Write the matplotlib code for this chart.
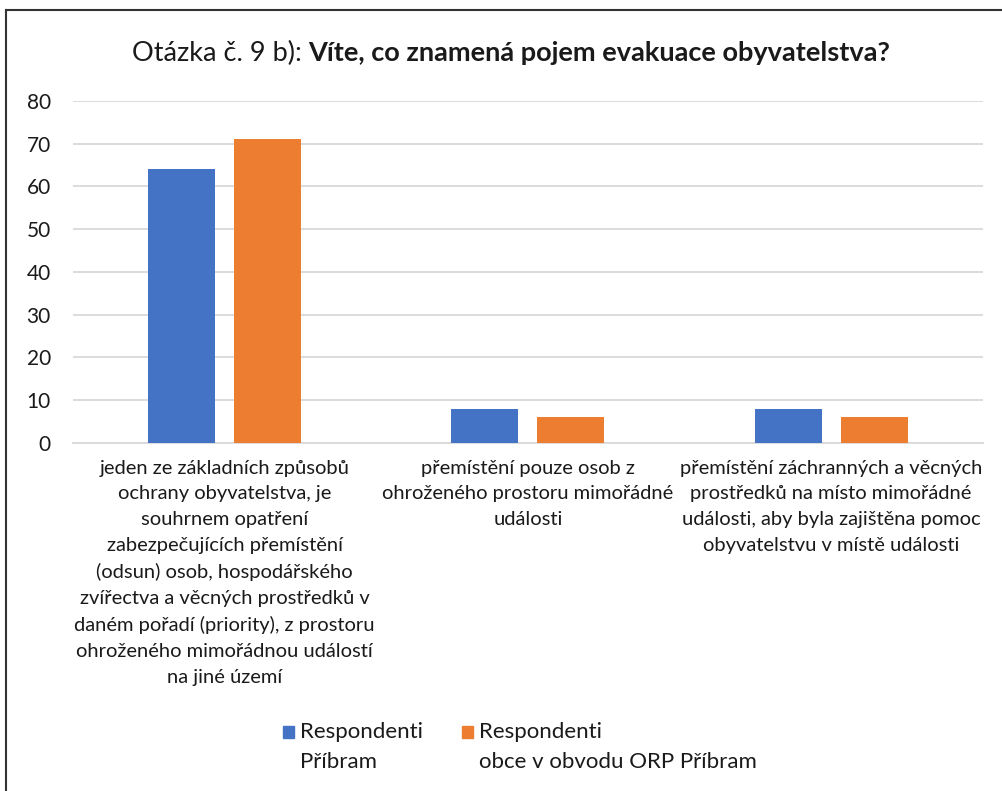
import matplotlib.pyplot as plt
from matplotlib.lines import Line2D
from matplotlib.patches import Rectangle
import numpy as np

plt.rcParams['font.family'] = ['Lato', 'DejaVu Sans']

categories = [
    "jeden ze základních způsobů\nochrany obyvatelstva, je\nsouhrnem opatření\nzabezpečujících přemístění\n(odsun) osob, hospodářského\nzvířectva a věcných prostředků v\ndaném pořadí (priority), z prostoru\nohroženého mimořádnou událostí\nna jiné území",
    "přemístění pouze osob z\nohroženého prostoru mimořádné\nudálosti",
    "přemístění záchranných a věcných\nprostředků na místo mimořádné\nudálosti, aby byla zajištěna pomoc\nobyvatelstvu v místě události",
]
pribram = [64, 8, 8]
obce = [71, 6, 6]
series_names = ["Respondenti\nPříbram", "Respondenti\nobce v obvodu ORP Příbram"]
colors = ["#4472C4", "#ED7D31"]
txt = "#1a1a1a"

fig = plt.figure(figsize=(10.03, 7.91), dpi=100)
ax = fig.add_axes([0.0728, 0.440, 0.907, 0.4323])

x = np.arange(len(categories))
w = 0.221
off = 0.142
ax.bar(x - off, pribram, w, color=colors[0], zorder=3)
ax.bar(x + off, obce, w, color=colors[1], zorder=3)

ax.set_xlim(-0.5, 2.5)
ax.set_ylim(0, 80)
ax.set_yticks(range(0, 81, 10))
ax.yaxis.grid(True, color="#D9D9D9", linewidth=1.3, zorder=0)
ax.set_axisbelow(True)
for s in ["top", "right", "left"]:
    ax.spines[s].set_visible(False)
ax.spines["bottom"].set_color("#D9D9D9")
ax.spines["bottom"].set_linewidth(1.3)
ax.tick_params(axis="y", length=0, pad=16, labelsize=15, labelcolor=txt)
ax.tick_params(axis="x", length=0, pad=12)
ax.set_xticks(x)
ax.set_xticklabels(categories, fontsize=14.5, color=txt, linespacing=1.62, va="top")

# title: normal part + bold part
fig.canvas.draw()
r = fig.canvas.get_renderer()
t1 = fig.text(0, 1 - 53 / 791, "Otázka č. 9 b): ", fontsize=19.5, va="center", color=txt)
t2 = fig.text(0, 1 - 53 / 791, "Víte, co znamená pojem evakuace obyvatelstva?", fontsize=19.5,
              fontweight="bold", va="center", color=txt)
w1 = t1.get_window_extent(r).width
w2 = t2.get_window_extent(r).width
start = 511 - (w1 + w2) / 2
t1.set_x(start / 1003)
t2.set_x((start + w1) / 1003)

# legend: square aligned with first line of a two-line label
leg_x = [283, 462]
for name, col, lx in zip(series_names, colors, leg_x):
    fig.add_artist(Rectangle((lx / 1003, 1 - 738 / 791), 11 / 1003, 12 / 791,
                             transform=fig.transFigure, color=col))
    fig.text((lx + 17) / 1003, 1 - 722 / 791, name, fontsize=16, va="top", ha="left",
             color=txt, linespacing=1.62)

# outer frame (only left and top visible)
fig.add_artist(Line2D([6 / 1003, 6 / 1003], [0, 1 - 10 / 791], transform=fig.transFigure,
                      color="#333333", linewidth=1.5))
fig.add_artist(Line2D([6 / 1003, 1], [1 - 10 / 791, 1 - 10 / 791], transform=fig.transFigure,
                      color="#333333", linewidth=1.5))

fig.savefig("out.png", dpi=100)
